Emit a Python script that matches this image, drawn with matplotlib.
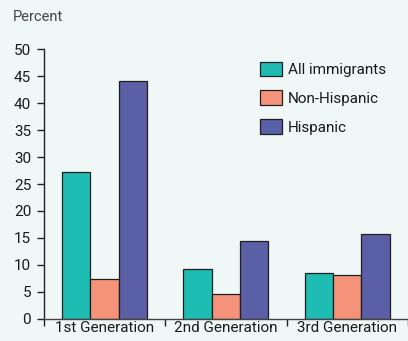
import matplotlib
matplotlib.use("Agg")
import matplotlib.pyplot as plt
import numpy as np

plt.rcParams['font.family'] = ['Roboto', 'DejaVu Sans']

generations = ["1st Generation", "2nd Generation", "3rd Generation"]
series_names = ["All immigrants", "Non-Hispanic", "Hispanic"]
all_immigrants = [27.3, 9.3, 8.5]
non_hispanic = [7.4, 4.5, 8.2]
hispanic = [44.2, 14.5, 15.8]
y_ticks = [0, 5, 10, 15, 20, 25, 30, 35, 40, 45, 50]

colors = ["#1fbcb4", "#f4937a", "#5b5fa6"]
bg = "#f0f8f7"

fig = plt.figure(figsize=(4.08, 3.41), dpi=100, facecolor=bg)
ax = fig.add_axes([0.107, 0.0654, 0.893, 0.790], facecolor=bg)

x = np.arange(len(generations))
width = 0.234
handles = []
for i, (name, vals) in enumerate(zip(series_names, [all_immigrants, non_hispanic, hispanic])):
    h = ax.bar(x + (i - 1) * width, vals, width, color=colors[i],
               edgecolor="#1e1e1e", linewidth=0.9, label=name, zorder=2)
    handles.append(h)

ax.set_xlim(-0.5, 2.47)
ax.set_ylim(0, 50)
ax.set_yticks(y_ticks)
ax.tick_params(axis='y', direction='out', length=5, width=1, labelsize=11,
               color="#222222", labelcolor="#1a1a1a", pad=4)

# category labels centered, ticks at group boundaries
ax.set_xticks(x)
ax.set_xticklabels(generations, fontsize=11, color="#1a1a1a")
ax.tick_params(axis='x', length=0, pad=2)
ax.set_xticks([-0.5, 0.5, 1.5, 2.5], minor=True)
ax.tick_params(axis='x', which='minor', direction='out', length=5, width=1, color="#222222")

for s in ["top", "right"]:
    ax.spines[s].set_visible(False)
ax.spines["left"].set_color("#222222")
ax.spines["bottom"].set_color("#444444")
ax.spines["left"].set_linewidth(1)
ax.spines["bottom"].set_linewidth(1)

fig.text(13 / 408, 1 - 17 / 341, "Percent", fontsize=10.5, color="#444444",
         ha="left", va="center")

ax.legend(handles=handles, loc="upper left",
          bbox_to_anchor=(260 / 408, 1 - 61.7 / 341), bbox_transform=fig.transFigure,
          frameon=False, borderpad=0, borderaxespad=0, fontsize=11,
          handlelength=1.42, handleheight=1.1, labelspacing=0.86,
          handletextpad=0.42, labelcolor="#1a1a1a")

fig.savefig("out.png", dpi=100, facecolor=bg)
